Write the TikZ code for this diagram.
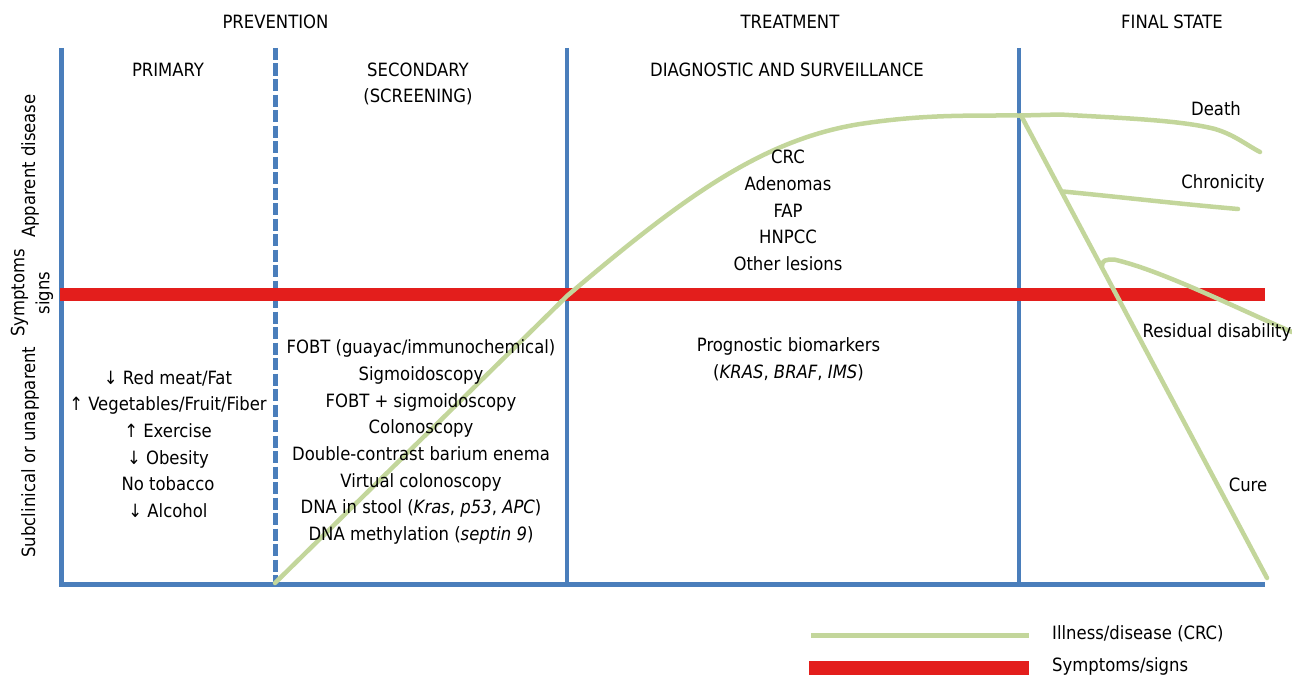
\documentclass[tikz,border=0pt]{standalone}
\usepackage{fontspec}
\setmainfont{DejaVu Sans Condensed}
\definecolor{axblue}{RGB}{74,126,187}
\definecolor{ilgreen}{RGB}{195,214,155}
\definecolor{symred}{RGB}{227,30,28}
\begin{document}
\begin{tikzpicture}[x=1pt,y=-1pt,
  ax/.style={line width=4.5pt, draw=axblue},
  dashax/.style={ax, dash pattern=on 12pt off 3.5pt},
  ill/.style={line width=4.5pt, draw=ilgreen, line cap=round, line join=round},
  sym/.style={line width=13pt, draw=symred},
  txt/.style={font=\fontsize{18.3}{26.7}\selectfont, inner sep=0pt, align=center, text=black},
  ltxt/.style={txt, anchor=west, align=left}]
\useasboundingbox (0,0) rectangle (1292,677);
% axes
\coordinate (a0t) at (61.5,48);
\coordinate (a0b) at (61.5,585);
\coordinate (a1t) at (275.5,48);
\coordinate (a1b) at (275.5,583);
\coordinate (a2t) at (567,48);
\coordinate (a2b) at (567,583);
\coordinate (a3t) at (1019,48);
\coordinate (a3b) at (1019,583);
\coordinate (xr) at (1265,584.5);
\coordinate (xl) at (59.3,584.5);
\draw[ax] (a0t) -- (a0b);
\draw[dashax] (a1t) -- (a1b);
\draw[ax] (a2t) -- (a2b);
\draw[ax] (a3t) -- (a3b);
\draw[ax] (xl) -- (xr);
% symptoms bar
\coordinate (sl) at (59.5,294.5);
\coordinate (sr) at (1265,294.5);
\draw[sym] (sl) -- (sr);
% illness curve
\coordinate (c0) at (275,583);
\coordinate (peak) at (1021,115.5);
\draw[ill] (c0) -- (567,296) .. controls (680,200) and (760,140) .. (860,124)
  .. controls (920,115) and (960,115.5) .. (peak);
% death
\coordinate (dend) at (1260,152);
\draw[ill] (peak) -- (1060,114.5) .. controls (1120,118) and (1180,120) .. (1215,129)
  .. controls (1235,135) and (1248,146) .. (dend);
% cure
\coordinate (cend) at (1267,578);
\draw[ill] (peak) -- (cend);
% chronicity
\coordinate (ch0) at (1063,191.5);
\coordinate (ch1) at (1238,209);
\draw[ill] (ch0) .. controls (1120,197) and (1180,204) .. (ch1);
% residual disability
\coordinate (r0) at (1102,266);
\coordinate (r1) at (1292,332);
\draw[ill] (r0) .. controls (1102,260) and (1106,259.5) .. (1114,259.5)
  .. controls (1160,270) and (1230,305) .. (r1);
% headers
\node[txt] (prev) at (275.5,22) {PREVENTION};
\node[txt] (treat) at (790,22) {TREATMENT};
\node[txt] (final) at (1172,22) {FINAL STATE};
\node[txt] (prim) at (168,70) {PRIMARY};
\node[txt] (sec) at (418,84) {SECONDARY\\(SCREENING)};
\node[txt] (diag) at (787,70) {DIAGNOSTIC AND SURVEILLANCE};
% left axis labels
\node[txt, rotate=90] (app) at (30,166) {Apparent disease};
\node[txt, rotate=90, font=\fontsize{18.3}{25}\selectfont] (sym) at (32,293) {Symptoms\\signs};
\node[txt, rotate=90] (sub) at (30,452) {Subclinical or unapparent};
% contents
\node[txt] (plist) at (168,444) {↓ Red meat/Fat\\↑ Vegetables/Fruit/Fiber\\↑ Exercise\\↓ Obesity\\No tobacco\\↓ Alcohol};
\node[txt] (slist) at (421,442) {FOBT (guayac/immunochemical)\\Sigmoidoscopy\\FOBT + sigmoidoscopy\\Colonoscopy\\Double-contrast barium enema\\Virtual colonoscopy\\DNA in stool (\textit{Kras}, \textit{p53}, \textit{APC})\\DNA methylation (\textit{septin 9})};
\node[txt] (dlist) at (788,210.5) {CRC\\Adenomas\\FAP\\HNPCC\\Other lesions};
\node[txt] (prog) at (788.5,359.5) {Prognostic biomarkers\\(\textit{KRAS}, \textit{BRAF}, \textit{IMS})};
% outcomes
\node[txt] (death) at (1216,109) {Death};
\node[txt] (chron) at (1223,183) {Chronicity};
\node[txt] (resid) at (1217,332) {Residual disability};
\node[txt] (cure) at (1248,485) {Cure};
% legend
\coordinate (lg0) at (811,635);
\coordinate (lg1) at (1029,635);
\coordinate (lr0) at (809,667.5);
\coordinate (lr1) at (1029,667.5);
\draw[ill, line width=5pt, line cap=butt] (lg0) -- (lg1);
\draw[line width=14pt, draw=symred] (lr0) -- (lr1);
\node[ltxt] (lgt) at (1052,634) {Illness/disease (CRC)};
\node[ltxt] (lrt) at (1052,666) {Symptoms/signs};
\end{tikzpicture}
\end{document}
